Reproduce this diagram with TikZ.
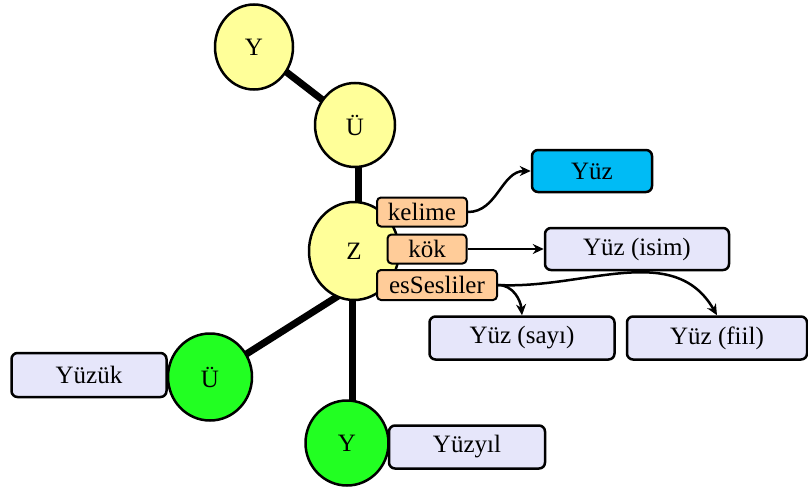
\documentclass[tikz,border=0pt]{standalone}
\usepackage{fontspec}
\setmainfont{Liberation Serif}
\usetikzlibrary{arrows.meta,backgrounds,shapes.geometric}
\definecolor{yel}{HTML}{FFFF99}
\definecolor{grn}{HTML}{22FF22}
\definecolor{lav}{HTML}{E6E6FA}
\definecolor{peach}{HTML}{FFCC99}
\definecolor{cyanbox}{HTML}{00BBF5}
\begin{document}
\begin{tikzpicture}[x=1pt,y=-1pt,
  every node/.style={font=\fontsize{25}{28}\selectfont, inner sep=0pt},
  ball/.style={ellipse, draw, line width=2.5pt},
  box/.style={rectangle, rounded corners=6pt, draw, line width=2.5pt, fill=lav},
  tag/.style={rectangle, rounded corners=4pt, draw, line width=2pt, fill=peach},
  link/.style={line width=7pt},
  arr/.style={line width=2.5pt, -{Stealth[length=11pt,width=10pt]}}]
\useasboundingbox (0,0) rectangle (808,487);

% balls
\node[ball, fill=yel, minimum width=78pt, minimum height=85pt] (Y1) at (254,47) {Y};
\node[ball, fill=yel, minimum width=80pt, minimum height=84pt] (U1) at (355,125) {Ü};
\node[ball, fill=yel, minimum width=90pt, minimum height=98pt] (Z) at (354,251) {Z};
\node[ball, fill=grn, minimum width=84pt, minimum height=87pt] (gU) at (210,377) {Ü};
\node[ball, fill=grn, minimum width=83pt, minimum height=85pt] (gY) at (347,443) {Y};

% boxes
\node[box, minimum width=155pt, minimum height=44pt] (yuzuk) at (89,375) {Yüzük};
\node[box, minimum width=156pt, minimum height=43pt] (yuzyil) at (467,447) {Yüzyıl};
\node[box, fill=cyanbox, minimum width=120pt, minimum height=42pt] (yuz) at (592,171) {Yüz};
\node[box, minimum width=184pt, minimum height=42pt] (isim) at (637,249) {Yüz (isim)};
\node[box, minimum width=185pt, minimum height=43pt] (sayi) at (522,338) {Yüz (sayı)};
\node[box, minimum width=180pt, minimum height=43pt] (fiil) at (717,338) {Yüz (fiil)};

% tags
\node[tag, minimum width=90pt, minimum height=29pt] (kelime) at (422,212) {kelime};
\node[tag, minimum width=79pt, minimum height=29pt] (kok) at (427,249) {kök};
\node[tag, minimum width=120pt, minimum height=30pt] (es) at (437,285) {esSesliler};

% thick links
\begin{scope}[on background layer]
\draw[link] (Y1.center) -- (U1.center);
\draw[link] ([xshift=3pt]U1.center) -- ([xshift=4pt]Z.center);
\draw[link] ([xshift=-2pt]Z.center) -- ([xshift=5pt]gY.center);
\draw[link] ([yshift=-35pt]Z.center) -- (gU.center);
\end{scope}

% arrows
\draw[arr] (kelime.east) to[out=0,in=180] (yuz.west);
\draw[arr] (kok.east) -- (isim.west);
\draw[arr] (es.east) to[out=0,in=95] (sayi.north);
\draw[arr] (es.east) to[out=-3,in=120] (fiil.north);
\end{tikzpicture}
\end{document}
